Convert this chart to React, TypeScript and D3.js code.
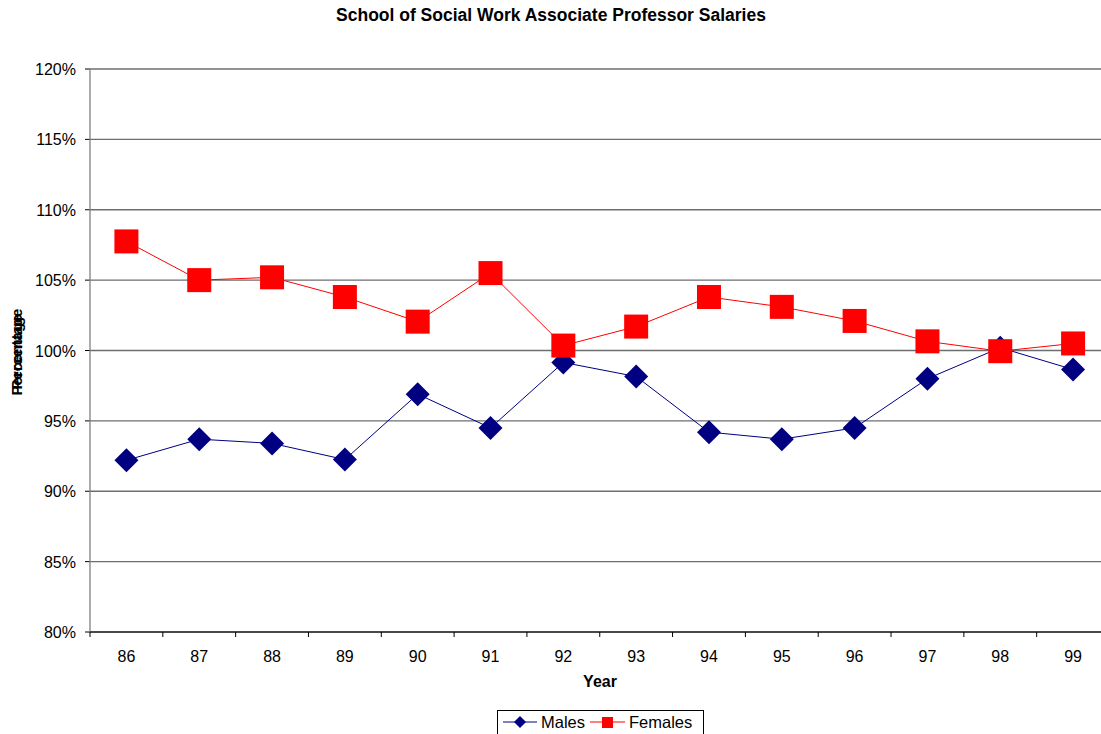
import React from "react";
import * as d3 from "d3";

const years = ["86", "87", "88", "89", "90", "91", "92", "93", "94", "95", "96", "97", "98", "99"];
const males = [92.2, 93.7, 93.4, 92.25, 96.9, 94.5, 99.15, 98.15, 94.2, 93.7, 94.5, 98.0, 100.2, 98.65];
const females = [107.75, 105.0, 105.2, 103.8, 102.05, 105.5, 100.35, 101.7, 103.8, 103.1, 102.1, 100.65, 99.95, 100.5];
const yTicks = [80, 85, 90, 95, 100, 105, 110, 115, 120];

const W = 1101;
const H = 734;
const left = 90;
const right = 1109.5;
const top = 69;
const bottom = 632;
const font = "'Liberation Sans', Arial, sans-serif";

export default function App() {
  const x = d3.scaleBand<string>().domain(years).range([left, right]).padding(0);
  const y = d3.scaleLinear().domain([80, 120]).range([bottom, top]);
  const cx = (d: string) => (x(d) as number) + x.bandwidth() / 2;
  const line = d3.line<number>().x((_, i) => cx(years[i])).y((v) => y(v));
  const sq = 24;
  const dm = 12;
  const diamond = (px: number, py: number, r: number) =>
    `M${px},${py - r}L${px + r},${py}L${px},${py + r}L${px - r},${py}Z`;

  return (
    <svg width={W} height={H} style={{ position: "absolute", left: 0, top: 0, background: "#fff" }}>
      <text x={551} y={21} textAnchor="middle" fontFamily={font} fontSize={17.5} fontWeight="bold">
        School of Social Work Associate Professor Salaries
      </text>
      {yTicks.map((t) => (
        <g key={t}>
          <line x1={left} x2={W} y1={y(t)} y2={y(t)} stroke="#6e6e6e" strokeWidth={1.3} />
          <line x1={left - 5} x2={left} y1={y(t)} y2={y(t)} stroke="#000" />
          <text x={76} y={y(t) + 6} textAnchor="end" fontFamily={font} fontSize={16}>
            {t}%
          </text>
        </g>
      ))}
      <line x1={left} x2={left} y1={top} y2={bottom} stroke="#808080" strokeWidth={1.3} />
      <line x1={left} x2={W} y1={bottom} y2={bottom} stroke="#000" strokeWidth={1} />
      {years.map((yr) => (
        <g key={yr}>
          <line x1={x(yr) as number} x2={x(yr) as number} y1={bottom} y2={bottom + 5} stroke="#000" />
          <text x={cx(yr)} y={662} textAnchor="middle" fontFamily={font} fontSize={16}>
            {yr}
          </text>
        </g>
      ))}
      <text x={600} y={687} textAnchor="middle" fontFamily={font} fontSize={16} fontWeight="bold">
        Year
      </text>
      <text transform="translate(22,349) rotate(-90)" textAnchor="middle" fontFamily={font} fontSize={15} fontWeight="bold">
        Percentage
      </text>
      <text transform="translate(22,355) rotate(-90)" textAnchor="middle" fontFamily={font} fontSize={15} fontWeight="bold">
        Percentage
      </text>
      <path d={line(females) || ""} fill="none" stroke="#ff0000" strokeWidth={1} />
      <path d={line(males) || ""} fill="none" stroke="#000080" strokeWidth={1} />
      {males.map((v, i) => (
        <path key={"m" + i} d={diamond(cx(years[i]), y(v), dm)} fill="#000080" />
      ))}
      {females.map((v, i) => (
        <rect key={"f" + i} x={cx(years[i]) - sq / 2} y={y(v) - sq / 2} width={sq} height={sq} fill="#ff0000" />
      ))}
      <g>
        <rect x={497.5} y={710.5} width={206} height={26} fill="#fff" stroke="#000" />
        <line x1={503} x2={537} y1={722} y2={722} stroke="#000080" />
        <path d={diamond(520, 722, 6)} fill="#000080" />
        <text x={541} y={728} fontFamily={font} fontSize={16.5}>Males</text>
        <line x1={590} x2={625} y1={722} y2={722} stroke="#ff0000" />
        <rect x={602} y={717} width={11} height={11} fill="#ff0000" />
        <text x={629} y={728} fontFamily={font} fontSize={16.5}>Females</text>
      </g>
    </svg>
  );
}
